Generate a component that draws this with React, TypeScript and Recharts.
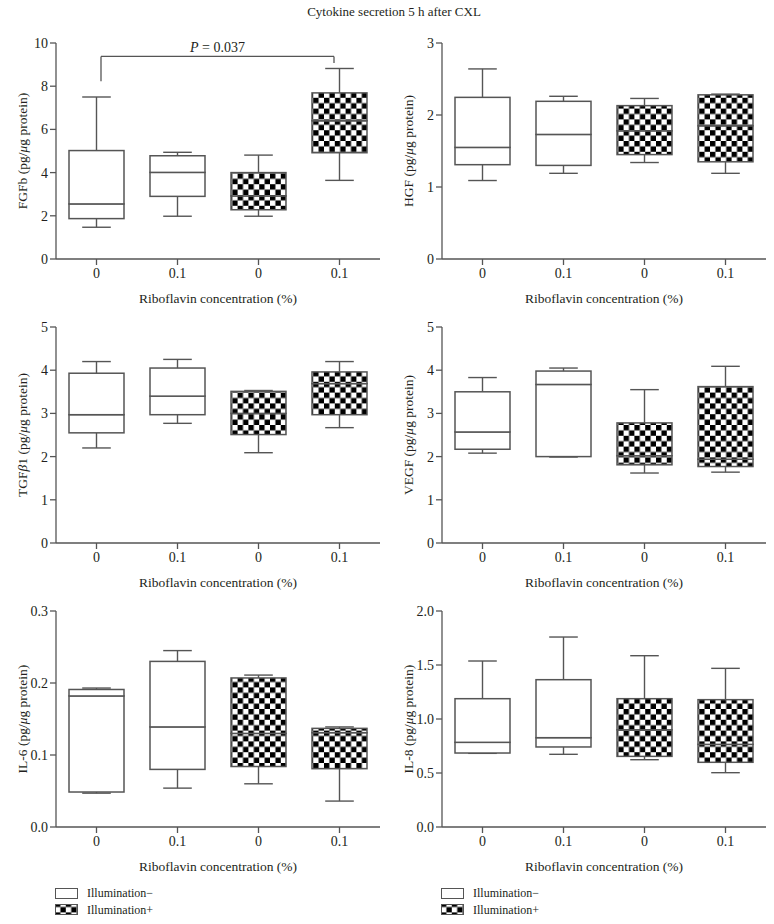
import React from 'react';
import { BarChart, Bar, XAxis, YAxis, ReferenceLine } from 'recharts';

// group labels (riboflavin %) and illumination state per box
const groups = ['0', '0.1', '0', '0.1'];
const illumination = ['-', '-', '+', '+'];

// FGFb
const fgfbMin = [1.47, 1.98, 1.98, 3.64];
const fgfbQ1 = [1.87, 2.9, 2.28, 4.92];
const fgfbMedian = [2.55, 4.01, 2.92, 6.4];
const fgfbQ3 = [5.02, 4.78, 4.0, 7.69];
const fgfbMax = [7.5, 4.94, 4.81, 8.82];

// HGF
const hgfMin = [1.09, 1.19, 1.34, 1.19];
const hgfQ1 = [1.31, 1.3, 1.45, 1.35];
const hgfMedian = [1.55, 1.73, 1.78, 1.85];
const hgfQ3 = [2.245, 2.19, 2.13, 2.28];
const hgfMax = [2.64, 2.26, 2.23, 2.29];

// TGFb1
const tgfMin = [2.2, 2.77, 2.09, 2.67];
const tgfQ1 = [2.55, 2.97, 2.51, 2.97];
const tgfMedian = [2.97, 3.4, 3.0, 3.69];
const tgfQ3 = [3.93, 4.05, 3.51, 3.96];
const tgfMax = [4.2, 4.25, 3.53, 4.2];

// VEGF
const vegfMin = [2.08, 1.99, 1.62, 1.64];
const vegfQ1 = [2.17, 2.0, 1.81, 1.77];
const vegfMedian = [2.57, 3.67, 2.02, 1.94];
const vegfQ3 = [3.5, 3.98, 2.78, 3.62];
const vegfMax = [3.83, 4.05, 3.55, 4.09];

// IL-6
const il6Min = [0.047, 0.054, 0.06, 0.036];
const il6Q1 = [0.0486, 0.08, 0.084, 0.081];
const il6Median = [0.182, 0.139, 0.13, 0.131];
const il6Q3 = [0.191, 0.23, 0.207, 0.137];
const il6Max = [0.193, 0.245, 0.211, 0.139];

// IL-8
const il8Min = [0.682, 0.673, 0.623, 0.503];
const il8Q1 = [0.685, 0.741, 0.654, 0.599];
const il8Median = [0.784, 0.827, 0.9, 0.765];
const il8Q3 = [1.188, 1.364, 1.188, 1.179];
const il8Max = [1.537, 1.759, 1.586, 1.469];

// significance bracket on FGFb
const bracketTop = 9.38;
const bracketLegs = [8.23, 9.07];
const pLabel = '0.037';

const FONT = '"Liberation Serif", "Times New Roman", serif';
const INK = '#231f20';
const LINE = '#555';

function buildRows(min: number[], q1: number[], med: number[], q3: number[], max: number[]) {
  return groups.map((_, i) => ({
    id: String(i),
    base: min[i],
    lowW: q1[i] - min[i],
    lowBox: med[i] - q1[i],
    highBox: q3[i] - med[i],
    highW: max[i] - q3[i],
    lit: illumination[i] === '+',
  }));
}

const LowWhisker = (p: any) => {
  const cx = p.x + p.width / 2;
  const cap = p.width * 0.26;
  const bottom = p.y + p.height;
  return (
    <g>
      <line x1={cx} x2={cx} y1={p.y} y2={bottom} stroke={LINE} strokeWidth={1.4} />
      <line x1={cx - cap} x2={cx + cap} y1={bottom} y2={bottom} stroke={LINE} strokeWidth={1.4} />
    </g>
  );
};

const HighWhisker = (p: any) => {
  const cx = p.x + p.width / 2;
  const cap = p.width * 0.26;
  return (
    <g>
      <line x1={cx} x2={cx} y1={p.y} y2={p.y + p.height} stroke={LINE} strokeWidth={1.4} />
      <line x1={cx - cap} x2={cx + cap} y1={p.y} y2={p.y} stroke={LINE} strokeWidth={1.4} />
    </g>
  );
};

const BoxPart = (p: any) => (
  <rect
    x={p.x}
    y={p.y}
    width={p.width}
    height={p.height}
    fill={p.payload && p.payload.lit ? 'url(#checker)' : '#fff'}
    stroke={LINE}
    strokeWidth={1.5}
  />
);

type Part = [string, boolean];

const yTitle = (parts: Part[]) => (props: any) => {
  const vb = props.viewBox || { x: 0, y: 0, width: 0, height: 0 };
  const cx = vb.x + 22;
  const cy = vb.y + vb.height / 2;
  return (
    <text
      x={cx}
      y={cy}
      transform={`rotate(-90 ${cx} ${cy})`}
      textAnchor="middle"
      dominantBaseline="central"
      fontFamily={FONT}
      fontSize={13.5}
      fill={INK}
    >
      {parts.map(([t, it], i) => (
        <tspan key={i} fontStyle={it ? 'italic' : 'normal'}>
          {t}
        </tspan>
      ))}
    </text>
  );
};

interface PanelProps {
  left: number;
  top: number;
  rows: ReturnType<typeof buildRows>;
  domain: [number, number];
  ticks: number[];
  decimals: number;
  title: Part[];
  children?: React.ReactNode;
}

function Panel({ left, top, rows, domain, ticks, decimals, title, children }: PanelProps) {
  const tickStyle = { fontFamily: FONT, fontSize: 14, fill: INK };
  return (
    <div style={{ position: 'absolute', left, top }}>
      <BarChart
        width={387}
        height={276}
        data={rows}
        margin={{ top: 10, right: 7, bottom: 0, left: 0 }}
        barSize={55}
      >
        <XAxis
          dataKey="id"
          tickFormatter={(v) => groups[Number(v)]}
          height={50}
          stroke={LINE}
          strokeWidth={1.3}
          tick={tickStyle}
          tickMargin={3}
          label={{
            value: 'Riboflavin concentration (%)',
            position: 'insideBottom',
            offset: 6,
            fill: INK,
            fontSize: 13.5,
            fontFamily: FONT,
          }}
        />
        <YAxis
          domain={domain}
          ticks={ticks}
          width={56}
          stroke={LINE}
          strokeWidth={1.3}
          tick={tickStyle}
          tickFormatter={(v) => Number(v).toFixed(decimals)}
          allowDataOverflow
          label={{ content: yTitle(title) }}
        />
        <Bar dataKey="base" stackId="b" fill="none" isAnimationActive={false} />
        <Bar dataKey="lowW" stackId="b" shape={LowWhisker} isAnimationActive={false} />
        <Bar dataKey="lowBox" stackId="b" shape={BoxPart} isAnimationActive={false} />
        <Bar dataKey="highBox" stackId="b" shape={BoxPart} isAnimationActive={false} />
        <Bar dataKey="highW" stackId="b" shape={HighWhisker} isAnimationActive={false} />
        {children}
      </BarChart>
    </div>
  );
}

const segShape = (dx1: number, dx2: number, withText = false) => (p: any) => (
  <g>
    <line x1={p.x1 + dx1} y1={p.y1} x2={p.x2 + dx2} y2={p.y2} stroke={LINE} strokeWidth={1.3} />
    {withText && (
      <text
        x={(p.x1 + dx1 + p.x2 + dx2) / 2}
        y={p.y1 - 4}
        textAnchor="middle"
        fontFamily={FONT}
        fontSize={14}
        fill={INK}
      >
        <tspan fontStyle="italic">P</tspan>
        <tspan>{` = ${pLabel}`}</tspan>
      </text>
    )}
  </g>
);

function LegendBlock({ x }: { x: number }) {
  return (
    <g transform={`translate(${x},0)`}>
      <rect x={0.5} y={8.5} width={22} height={10} fill="#fff" stroke={LINE} strokeWidth={1} />
      <text x={32} y={17} fontFamily={FONT} fontSize={12} fill={INK}>
        Illumination−
      </text>
      <rect x={0.5} y={24.5} width={22} height={10} fill="url(#checker)" stroke={LINE} strokeWidth={1} />
      <text x={32} y={34} fontFamily={FONT} fontSize={12} fill={INK}>
        Illumination+
      </text>
    </g>
  );
}

export default function App() {
  const cell = 5.4;
  return (
    <div
      style={{
        position: 'absolute',
        left: 0,
        top: 0,
        width: 774,
        height: 924,
        background: '#fff',
        overflow: 'hidden',
      }}
    >
      <svg width={0} height={0} style={{ position: 'absolute' }}>
        <defs>
          <pattern id="checker" patternUnits="userSpaceOnUse" width={cell * 2} height={cell * 2}>
            <rect width={cell * 2} height={cell * 2} fill="#fff" />
            <rect width={cell} height={cell} fill="#000" />
            <rect x={cell} y={cell} width={cell} height={cell} fill="#000" />
          </pattern>
        </defs>
      </svg>
      <svg width={774} height={24} style={{ position: 'absolute', left: 0, top: 0 }}>
        <text x={394} y={16} textAnchor="middle" fontFamily={FONT} fontSize={13} fill={INK}>
          Cytokine secretion 5 h after CXL
        </text>
      </svg>

      <Panel
        left={0}
        top={33}
        rows={buildRows(fgfbMin, fgfbQ1, fgfbMedian, fgfbQ3, fgfbMax)}
        domain={[0, 10]}
        ticks={[0, 2, 4, 6, 8, 10]}
        decimals={0}
        title={[['FGFb (pg/', false], ['μ', true], ['g protein)', false]]}
      >
        <ReferenceLine
          segment={[{ x: '0', y: bracketTop }, { x: '3', y: bracketTop }]}
          shape={segShape(4.5, -5.5, true)}
        />
        <ReferenceLine
          segment={[{ x: '0', y: bracketTop }, { x: '0', y: bracketLegs[0] }]}
          shape={segShape(4.5, 4.5)}
        />
        <ReferenceLine
          segment={[{ x: '3', y: bracketTop }, { x: '3', y: bracketLegs[1] }]}
          shape={segShape(-5.5, -5.5)}
        />
      </Panel>
      <Panel
        left={386}
        top={33}
        rows={buildRows(hgfMin, hgfQ1, hgfMedian, hgfQ3, hgfMax)}
        domain={[0, 3]}
        ticks={[0, 1, 2, 3]}
        decimals={0}
        title={[['HGF (pg/', false], ['μ', true], ['g protein)', false]]}
      />
      <Panel
        left={0}
        top={317}
        rows={buildRows(tgfMin, tgfQ1, tgfMedian, tgfQ3, tgfMax)}
        domain={[0, 5]}
        ticks={[0, 1, 2, 3, 4, 5]}
        decimals={0}
        title={[['TGF', false], ['β', true], ['1 (pg/', false], ['μ', true], ['g protein)', false]]}
      />
      <Panel
        left={386}
        top={317}
        rows={buildRows(vegfMin, vegfQ1, vegfMedian, vegfQ3, vegfMax)}
        domain={[0, 5]}
        ticks={[0, 1, 2, 3, 4, 5]}
        decimals={0}
        title={[['VEGF (pg/', false], ['μ', true], ['g protein)', false]]}
      />
      <Panel
        left={0}
        top={601}
        rows={buildRows(il6Min, il6Q1, il6Median, il6Q3, il6Max)}
        domain={[0, 0.3]}
        ticks={[0, 0.1, 0.2, 0.3]}
        decimals={1}
        title={[['IL-6 (pg/', false], ['μ', true], ['g protein)', false]]}
      />
      <Panel
        left={386}
        top={601}
        rows={buildRows(il8Min, il8Q1, il8Median, il8Q3, il8Max)}
        domain={[0, 2]}
        ticks={[0, 0.5, 1, 1.5, 2]}
        decimals={1}
        title={[['IL-8 (pg/', false], ['μ', true], ['g protein)', false]]}
      />

      <svg width={774} height={44} style={{ position: 'absolute', left: 0, top: 880 }}>
        <LegendBlock x={55} />
        <LegendBlock x={441} />
      </svg>
    </div>
  );
}
